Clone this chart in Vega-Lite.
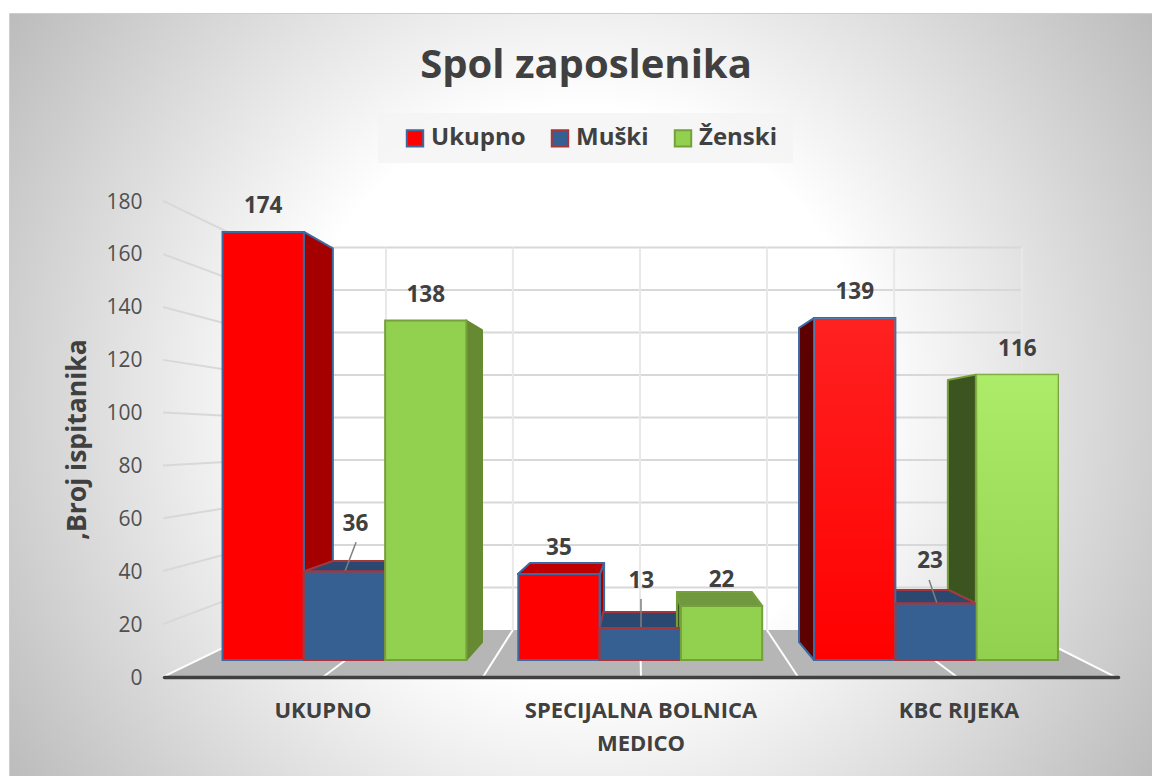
{
"$schema":"https://vega.github.io/schema/vega-lite/v6.json",
"autosize":{"type":"none"},
"padding":{"left":10,"top":14,"right":0,"bottom":0},
"width":1142,"height":762,
"background":"#ffffff",
"view":{"stroke":"#bdbdbd","strokeWidth":1.5},
"title":{"text":"Spol zaposlenika","font":"Open Sans","fontSize":40,"fontWeight":"bold","color":"#404040","anchor":"middle","offset":-72,"dx":5},
"config":{"font":"Open Sans"},
"datasets":{
"bars":[
{"category":"UKUPNO","series":"Ukupno","value":174},
{"category":"UKUPNO","series":"Muški","value":36},
{"category":"UKUPNO","series":"Ženski","value":138},
{"category":"SPECIJALNA BOLNICA MEDICO","series":"Ukupno","value":35},
{"category":"SPECIJALNA BOLNICA MEDICO","series":"Muški","value":13},
{"category":"SPECIJALNA BOLNICA MEDICO","series":"Ženski","value":22},
{"category":"KBC RIJEKA","series":"Ukupno","value":139},
{"category":"KBC RIJEKA","series":"Muški","value":23},
{"category":"KBC RIJEKA","series":"Ženski","value":116}
],
"canvas":[{"u":-0.484,"u2":3.107,"v":339.8,"v2":-124.4}],
"legendBox":[{"u":0.673,"u2":1.978,"v":222.4,"v2":202}],
"floor":[
{"u":-0.003,"hi":-6.9,"lo":-6.9},
{"u":0.302,"hi":12.2,"lo":-6.9},
{"u":2.698,"hi":12.2,"lo":-6.9},
{"u":2.991,"hi":-6.9,"lo":-6.9}
],
"walls":[
{"line":"h180","kind":"h","u":-0.003,"v":186.6},{"line":"h180","kind":"h","u":0.302,"v":167.7},{"line":"h180","kind":"h","u":2.698,"v":167.7},
{"line":"h160","kind":"h","u":-0.003,"v":165},{"line":"h160","kind":"h","u":0.302,"v":150.4},{"line":"h160","kind":"h","u":2.698,"v":150.4},
{"line":"h140","kind":"h","u":-0.003,"v":143.5},{"line":"h140","kind":"h","u":0.302,"v":133.1},{"line":"h140","kind":"h","u":2.698,"v":133.1},
{"line":"h120","kind":"h","u":-0.003,"v":122},{"line":"h120","kind":"h","u":0.302,"v":115.9},{"line":"h120","kind":"h","u":2.698,"v":115.9},
{"line":"h100","kind":"h","u":-0.003,"v":100.6},{"line":"h100","kind":"h","u":0.302,"v":98.6},{"line":"h100","kind":"h","u":2.698,"v":98.6},
{"line":"h80","kind":"h","u":-0.003,"v":79.1},{"line":"h80","kind":"h","u":0.302,"v":81.3},{"line":"h80","kind":"h","u":2.698,"v":81.3},
{"line":"h60","kind":"h","u":-0.003,"v":57.6},{"line":"h60","kind":"h","u":0.302,"v":64},{"line":"h60","kind":"h","u":2.698,"v":64},
{"line":"h40","kind":"h","u":-0.003,"v":36.2},{"line":"h40","kind":"h","u":0.302,"v":46.7},{"line":"h40","kind":"h","u":2.698,"v":46.7},
{"line":"h20","kind":"h","u":-0.003,"v":14.6},{"line":"h20","kind":"h","u":0.302,"v":29.5},{"line":"h20","kind":"h","u":2.698,"v":29.5},
{"line":"v1","kind":"v","u":0.698,"v":12.2},{"line":"v1","kind":"v","u":0.698,"v":167.7},
{"line":"v2","kind":"v","u":1.097,"v":12.2},{"line":"v2","kind":"v","u":1.097,"v":167.7},
{"line":"v3","kind":"v","u":1.497,"v":12.2},{"line":"v3","kind":"v","u":1.497,"v":167.7},
{"line":"v4","kind":"v","u":1.896,"v":12.2},{"line":"v4","kind":"v","u":1.896,"v":167.7},
{"line":"v5","kind":"v","u":2.296,"v":12.2},{"line":"v5","kind":"v","u":2.296,"v":167.7},
{"line":"v6","kind":"v","u":2.698,"v":12.2},{"line":"v6","kind":"v","u":2.698,"v":167.7},
{"line":"f0","kind":"f","u":-0.003,"v":-6.9},{"line":"f0","kind":"f","u":0.302,"v":12.2},
{"line":"f1","kind":"f","u":0.5,"v":-6.9},{"line":"f1","kind":"f","u":0.698,"v":12.2},
{"line":"f2","kind":"f","u":1.003,"v":-6.9},{"line":"f2","kind":"f","u":1.097,"v":12.2},
{"line":"f3","kind":"f","u":1.5,"v":-6.9},{"line":"f3","kind":"f","u":1.497,"v":12.2},
{"line":"f4","kind":"f","u":1.896,"v":12.2},{"line":"f4","kind":"f","u":1.994,"v":-6.9},
{"line":"f5","kind":"f","u":2.296,"v":12.2},{"line":"f5","kind":"f","u":2.494,"v":-6.9},
{"line":"f6","kind":"f","u":2.698,"v":12.2},{"line":"f6","kind":"f","u":2.991,"v":-6.9}
],
"faces":[
{"face":"f1","part":"Ukupno bok desni","u":0.44,"hi":174,"lo":36},{"face":"f1","part":"Ukupno bok desni","u":0.531,"hi":167.3,"lo":40.2},
{"face":"f2","part":"Muški vrh","u":0.44,"hi":36,"lo":36},{"face":"f2","part":"Muški vrh","u":0.531,"hi":40.2,"lo":36},{"face":"f2","part":"Muški vrh","u":0.695,"hi":40.2,"lo":36},
{"face":"f3","part":"Ženski bok desni","u":0.95,"hi":138,"lo":0},{"face":"f3","part":"Ženski bok desni","u":1.0,"hi":134.1,"lo":7.3},
{"face":"f5","part":"Ukupno bok desni","u":1.371,"hi":35,"lo":13},{"face":"f5","part":"Ukupno bok desni","u":1.384,"hi":39.4,"lo":19.5},
{"face":"f4","part":"Ukupno vrh","u":1.113,"hi":35,"lo":35},{"face":"f4","part":"Ukupno vrh","u":1.151,"hi":39.4,"lo":35},{"face":"f4","part":"Ukupno vrh","u":1.371,"hi":39.4,"lo":35},{"face":"f4","part":"Ukupno vrh","u":1.384,"hi":39.4,"lo":39.4},
{"face":"f6","part":"Muški vrh","u":1.371,"hi":13,"lo":13},{"face":"f6","part":"Muški vrh","u":1.381,"hi":19.5,"lo":13},{"face":"f6","part":"Muški vrh","u":1.613,"hi":19.5,"lo":13},{"face":"f6","part":"Muški vrh","u":1.623,"hi":13,"lo":13},
{"face":"f7","part":"Ženski bok lijevi","u":1.613,"hi":27.6,"lo":13},{"face":"f7","part":"Ženski bok lijevi","u":1.623,"hi":22,"lo":0},
{"face":"f8","part":"Ženski vrh","u":1.613,"hi":27.6,"lo":27.6},{"face":"f8","part":"Ženski vrh","u":1.623,"hi":27.6,"lo":22},{"face":"f8","part":"Ženski vrh","u":1.849,"hi":27.6,"lo":22},{"face":"f8","part":"Ženski vrh","u":1.881,"hi":22,"lo":22},
{"face":"f9","part":"Ukupno bok lijevi","u":1.997,"hi":135,"lo":7.3},{"face":"f9","part":"Ukupno bok lijevi","u":2.044,"hi":139,"lo":0},
{"face":"f10","part":"Ženski bok lijevi","u":2.465,"hi":113.8,"lo":28.5},{"face":"f10","part":"Ženski bok lijevi","u":2.553,"hi":116,"lo":23},
{"face":"f11","part":"Muški vrh","u":2.299,"hi":28.5,"lo":23},{"face":"f11","part":"Muški vrh","u":2.465,"hi":28.5,"lo":23},{"face":"f11","part":"Muški vrh","u":2.553,"hi":23,"lo":23}
],
"leaders":[
{"line":"36","u":0.569,"v":36},{"line":"36","u":0.604,"v":47.9},
{"line":"13","u":1.5,"v":13},{"line":"13","u":1.5,"v":24.8},
{"line":"23","u":2.406,"v":32.5},{"line":"23","u":2.431,"v":23}
]
},
"layer":[
{
"layer":[
{"data":{"name":"canvas"},"mark":{"type":"rect","clip":true,"fill":{"gradient":"radial","x1":0.5,"y1":0.5,"r1":0,"x2":0.5,"y2":0.5,"r2":0.6,"stops":[{"offset":0.42,"color":"#ffffff"},{"offset":1,"color":"#bcbcbc"}]}},
"encoding":{"x":{"field":"u","type":"quantitative","axis":null,"scale":{"domain":[0,3],"range":[154,1108],"nice":false,"zero":false}},"x2":{"field":"u2"},
"y":{"field":"v","type":"quantitative","axis":null,"scale":{"domain":[0,180],"range":[646,203.2],"nice":false,"zero":false}},"y2":{"field":"v2"}}},
{"data":{"name":"legendBox"},"mark":{"type":"rect","fill":"#f4f4f4","opacity":0.8},
"encoding":{"x":{"field":"u","type":"quantitative"},"x2":{"field":"u2"},
"y":{"field":"v","type":"quantitative"},"y2":{"field":"v2"}}},
{"data":{"name":"walls"},"transform":[{"filter":"datum.kind != 'f'"}],"mark":{"type":"line","strokeWidth":2,"interpolate":"linear"},
"encoding":{"x":{"field":"u","type":"quantitative"},"y":{"field":"v","type":"quantitative"},"detail":{"field":"line"},
"color":{"field":"kind","type":"nominal","legend":null,"scale":{"domain":["h","v"],"range":["#d8d8d8","#e8e8e8"]}}}},
{"data":{"name":"floor"},"mark":{"type":"area","fill":"#b6b6b6"},
"encoding":{"x":{"field":"u","type":"quantitative"},"y":{"field":"hi","type":"quantitative"},"y2":{"field":"lo"}}},
{"data":{"name":"walls"},"transform":[{"filter":"datum.kind == 'f'"}],"mark":{"type":"line","strokeWidth":2,"stroke":"#ffffff"},
"encoding":{"x":{"field":"u","type":"quantitative"},"y":{"field":"v","type":"quantitative"},"detail":{"field":"line"}}},
{"data":{"name":"faces"},"mark":{"type":"area","strokeWidth":2,"strokeJoin":"round"},
"encoding":{"x":{"field":"u","type":"quantitative"},"y":{"field":"hi","type":"quantitative"},"y2":{"field":"lo"},"detail":{"field":"face"},
"fill":{"field":"part","type":"nominal","legend":null,"scale":{"domain":["Ukupno bok desni","Ukupno vrh","Ukupno bok lijevi","Muški vrh","Ženski bok desni","Ženski vrh","Ženski bok lijevi"],"range":["#a50000","#c00000","#5c0000","#2a4870","#658a32","#70983e","#3c5420"]}},
"stroke":{"field":"part","type":"nominal","legend":null,"scale":{"domain":["Ukupno bok desni","Ukupno vrh","Ukupno bok lijevi","Muški vrh","Ženski bok desni","Ženski vrh","Ženski bok lijevi"],"range":["#3b6aa0","#3b6aa0","#3b6aa0","#a5363c","#658a32","#76a03c","#76a03c"]}}}},
{"data":{"name":"leaders"},"mark":{"type":"line","stroke":"#7f7f7f","strokeWidth":1.5},
"encoding":{"x":{"field":"u","type":"quantitative"},"y":{"field":"v","type":"quantitative"},"detail":{"field":"line"}}}
]
},
{
"data":{"name":"bars"},
"mark":{"type":"point","opacity":0},
"encoding":{
"x":{"field":"category","type":"nominal","title":null,"scale":{"type":"band","domain":["UKUPNO","SPECIJALNA BOLNICA MEDICO","KBC RIJEKA"],"range":[154,1108],"paddingInner":0,"paddingOuter":0},
"axis":{"orient":"bottom","offset":-99,"zindex":1,"domainColor":"#404040","domainWidth":3.5,"domainCap":"round","ticks":false,"labelAngle":0,"labelFont":"Open Sans","labelFontSize":22,"labelFontWeight":"bold","labelColor":"#404040","labelPadding":23,"labelLineHeight":33,"labelLimit":400,"labelExpr":"datum.label == 'SPECIJALNA BOLNICA MEDICO' ? ['SPECIJALNA BOLNICA','MEDICO'] : datum.label","grid":false}},
"y":{"field":"value","type":"quantitative","scale":{"domain":[0,180],"range":[663,187],"nice":false},
"axis":{"orient":"left","offset":-153,"zindex":1,"values":[0,20,40,60,80,100,120,140,160,180],"domain":false,"ticks":false,"grid":false,"labelFont":"Open Sans","labelFontSize":21,"labelColor":"#505050","labelPadding":21,"labelOffset":1,"title":",Broj ispitanika","titleFont":"Open Sans","titleFontSize":26.5,"titleFontWeight":"bold","titleColor":"#404040","titleX":-72}}
}
},
{
"data":{"name":"bars"},
"encoding":{
"x":{"field":"category","type":"nominal","axis":null,"scale":{"type":"band","domain":["UKUPNO","SPECIJALNA BOLNICA MEDICO","KBC RIJEKA"],"range":[186.6,1073.9],"paddingInner":0,"paddingOuter":0}},
"xOffset":{"field":"series","type":"nominal","scale":{"domain":["Ukupno","Muški","Ženski"],"paddingInner":0,"paddingOuter":0.319}},
"y":{"field":"value","type":"quantitative","axis":null,"scale":{"domain":[0,180],"range":[646,203.2],"nice":false}}
},
"layer":[
{"mark":{"type":"bar","strokeWidth":2},
"encoding":{
"fill":{"field":"series","type":"nominal","scale":{"domain":["Ukupno","Muški","Ženski"],"range":["#ff0000","#376092","#92d050"]},
"legend":{"title":null,"orient":"none","legendX":393,"legendY":112,"direction":"horizontal","columns":3,"columnPadding":21,"symbolType":"square","symbolSize":270,"symbolStrokeWidth":2,"symbolOpacity":1,"labelFont":"Open Sans","labelFontSize":24,"labelFontWeight":"bold","labelColor":"#404040","labelOffset":4,"padding":0}},
"stroke":{"field":"series","type":"nominal","scale":{"domain":["Ukupno","Muški","Ženski"],"range":["#3b6aa0","#a5363c","#76a03c"]}}
}},
{"transform":[{"filter":"datum.category == 'KBC RIJEKA' && datum.series == 'Ukupno'"}],
"mark":{"type":"bar","fill":{"gradient":"linear","x1":0,"y1":0,"x2":0,"y2":1,"stops":[{"offset":0,"color":"rgba(255,255,255,0.13)"},{"offset":1,"color":"rgba(255,255,255,0)"}]}}},
{"transform":[{"filter":"datum.category == 'KBC RIJEKA' && datum.series == 'Ženski'"}],
"mark":{"type":"bar","fill":{"gradient":"linear","x1":0,"y1":0,"x2":0,"y2":1,"stops":[{"offset":0,"color":"rgba(190,255,120,0.6)"},{"offset":1,"color":"rgba(190,255,120,0)"}]}}},
{"transform":[{"filter":"datum.series != 'Muški'"}],
"mark":{"type":"text","font":"Open Sans","fontSize":22.5,"fontWeight":"bold","color":"#404040","dy":-26},
"encoding":{"text":{"field":"value","type":"quantitative"}}},
{"transform":[{"filter":"datum.series == 'Muški' && datum.value == 36"}],
"mark":{"type":"text","font":"Open Sans","fontSize":22.5,"fontWeight":"bold","color":"#404040","dy":-47,"dx":11},
"encoding":{"text":{"field":"value","type":"quantitative"}}},
{"transform":[{"filter":"datum.series == 'Muški' && datum.value == 13"}],
"mark":{"type":"text","font":"Open Sans","fontSize":22.5,"fontWeight":"bold","color":"#404040","dy":-47,"dx":1},
"encoding":{"text":{"field":"value","type":"quantitative"}}},
{"transform":[{"filter":"datum.series == 'Muški' && datum.value == 23"}],
"mark":{"type":"text","font":"Open Sans","fontSize":22.5,"fontWeight":"bold","color":"#404040","dy":-42,"dx":-6},
"encoding":{"text":{"field":"value","type":"quantitative"}}}
]
}
],
"resolve":{"scale":{"x":"independent","y":"independent","fill":"independent","stroke":"independent","color":"independent"},"axis":{"x":"independent","y":"independent"}}
}
